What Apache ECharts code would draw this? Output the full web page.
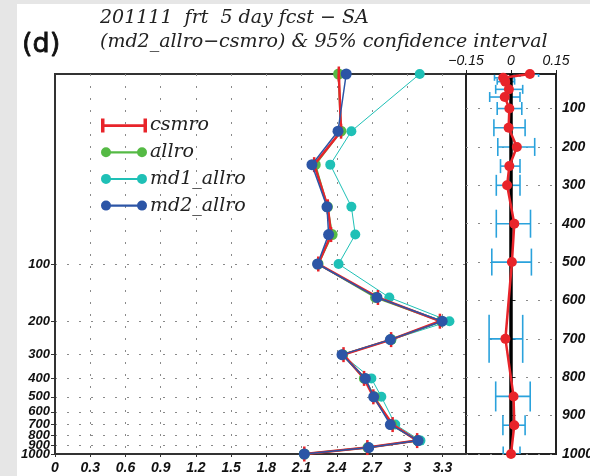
<!DOCTYPE html>
<html>
<head>
<meta charset="utf-8">
<script src="https://cdn.jsdelivr.net/npm/echarts@6/dist/echarts.min.js"></script>
<style>
  html, body { margin: 0; padding: 0; background: #e6e6e6; }
  #chart { width: 590px; height: 476px; }
</style>
</head>
<body>
<div id="chart"></div>
<script>
// Pressure levels (hPa) of the profile
const levels = [10, 20, 30, 50, 70, 100, 150, 200, 250, 300, 400, 500, 700, 850, 925, 1000];

// Profile values for each experiment
const csmro    = [2.417, 2.436, 2.207, 2.323, 2.351, 2.242, 2.750, 3.278, 2.862, 2.457, 2.632, 2.711, 2.875, 3.084, 2.660, 2.123];
const allro    = [2.415, 2.435, 2.216, 2.320, 2.360, 2.240, 2.730, 3.290, 2.860, 2.450, 2.635, 2.720, 2.865, 3.090, 2.665, 2.123];
const md1Allro = [3.106, 2.524, 2.344, 2.524, 2.557, 2.415, 2.847, 3.359, 2.865, 2.445, 2.694, 2.779, 2.898, 3.112, 2.675, 2.125];
const md2Allro = [2.480, 2.410, 2.188, 2.316, 2.330, 2.236, 2.742, 3.297, 2.856, 2.444, 2.643, 2.714, 2.856, 3.092, 2.671, 2.123];

// Difference md2_allro - csmro and its 95% confidence interval
const diff    = [0.063, -0.026, -0.019, -0.007, -0.021, -0.0055, -0.008, 0.0195, -0.0055, -0.013, 0.011, 0.003, -0.0186, 0.0085, 0.011, 0.0];
const ciLower = [0.030, -0.055, -0.046, -0.051, -0.071, -0.046, -0.057, -0.044, -0.035, -0.049, -0.049, -0.064, -0.073, -0.051, -0.027, -0.026];
const ciUpper = [0.092,  0.011,  0.012,  0.039,  0.030,  0.036,  0.047,  0.079,  0.030,  0.030,  0.065,  0.068,  0.039,  0.064,  0.047,  0.030];

// Tick labels (the left log axis labels are split over two axes so the
// tightly packed labels near the surface are all kept)
const leftXTicks = [0, 0.3, 0.6, 0.9, 1.2, 1.5, 1.8, 2.1, 2.4, 2.7, 3, 3.3];
const pressureTicks = [100, 200, 300, 400, 500, 600, 700, 800, 900, 1000];
const pressureLabelsA = [100, 200, 300, 400, 500, 600, 700, 900];
const pressureLabelsB = [800, 1000];

// Cap heights (px) for the confidence-interval whiskers
const capPx = [6, 6, 6, 9, 10, 13, 17, 18, 14, 21, 28, 27, 48, 30, 20, 15];

const tickFont = {
  fontFamily: '"Liberation Sans Narrow", "Liberation Sans", sans-serif',
  fontStyle: 'italic', fontWeight: 'bold', fontSize: 14, color: '#111'
};
const gridDash = { color: '#8a8a8a', width: 1, type: [2, 10] };

const pairs = arr => arr.map((v, i) => [v, levels[i]]);

const circleIcon = 'path://M0,7 A5,5 0 1,1 10,7 A5,5 0 1,1 0,7 Z M36,7 A5,5 0 1,1 46,7 A5,5 0 1,1 36,7 Z M4,6 L42,6 L42,8.2 L4,8.2 Z';
const barIcon = 'path://M0,0 L3.5,0 L3.5,14 L0,14 Z M42.5,0 L46,0 L46,14 L42.5,14 Z M0,5.7 L46,5.7 L46,8.5 L0,8.5 Z';

const leftLogAxis = {
  gridIndex: 0, type: 'log', logBase: 10, min: 10, max: 1000, inverse: true, position: 'left',
  minorTick: { show: false }
};
const leftLabel = vals => ({
  ...tickFont, fontSize: 13, margin: 5, customValues: vals,
  showMinLabel: true, showMaxLabel: true, hideOverlap: false,
  formatter: v => String(Math.round(v))
});

const chart = echarts.init(document.getElementById('chart'), null, { renderer: 'canvas' });

chart.setOption({
  backgroundColor: '#e6e6e6',
  animation: false,
  graphic: [
    { type: 'rect', z: -100, shape: { x: 17, y: 4, width: 573, height: 472 }, style: { fill: '#ffffff' } },
    { type: 'text', x: 22, y: 45, style: { text: '(d)', font: '27px "DejaVu Sans", sans-serif', fill: '#111', textVerticalAlign: 'middle', stroke: '#111', lineWidth: 0.8 } },
    { type: 'text', x: 100, y: 18, style: { text: '201111  frt  5 day fcst \u2212 SA', font: 'italic 19px "DejaVu Serif", serif', fill: '#222', textVerticalAlign: 'middle' } },
    { type: 'text', x: 100, y: 42, style: { text: '(md2_allro\u2212csmro) & 95% confidence interval', font: 'italic 19px "DejaVu Serif", serif', fill: '#222', textVerticalAlign: 'middle' } }
  ],
  legend: {
    orient: 'vertical', left: 96, top: 111, itemWidth: 46, itemHeight: 14, itemGap: 7.7,
    textStyle: { fontFamily: '"DejaVu Serif", serif', fontStyle: 'italic', fontSize: 19, color: '#222', padding: [0, 0, 0, -2] },
    data: [
      { name: 'csmro', icon: barIcon },
      { name: 'allro', icon: circleIcon },
      { name: 'md1_allro', icon: circleIcon },
      { name: 'md2_allro', icon: circleIcon }
    ]
  },
  grid: [
    { left: 55, top: 74, width: 411, height: 380, show: true, borderColor: '#333', borderWidth: 2, backgroundColor: 'transparent', outerBoundsMode: 'none', containLabel: false },
    { left: 466, top: 74, width: 90, height: 380, show: true, borderColor: '#222', borderWidth: 2, backgroundColor: 'transparent', outerBoundsMode: 'none', containLabel: false }
  ],
  xAxis: [
    {
      gridIndex: 0, type: 'value', min: 0, max: 3.5, position: 'bottom',
      axisLine: { show: true, lineStyle: { color: '#333', width: 2 } },
      axisTick: { show: true, length: 3, customValues: leftXTicks, lineStyle: { color: '#333' } },
      axisLabel: { ...tickFont, margin: 7, customValues: leftXTicks, showMinLabel: true, formatter: v => String(+(+v).toFixed(1)) },
      splitLine: { show: true, lineStyle: gridDash }
    },
    {
      gridIndex: 1, type: 'value', min: -0.15, max: 0.15, interval: 0.15, position: 'top',
      axisLine: { show: true, lineStyle: { color: '#222', width: 2 } },
      axisTick: { show: true, length: 4, lineStyle: { color: '#222' } },
      axisLabel: { ...tickFont, fontWeight: 'normal', margin: 6, showMinLabel: true, showMaxLabel: true, formatter: v => String(+(+v).toFixed(2)).replace('-', '\u2212') },
      splitLine: { show: false }
    }
  ],
  yAxis: [
    {
      ...leftLogAxis,
      axisLine: { show: true, lineStyle: { color: '#333', width: 2 } },
      axisTick: { show: true, length: 4, customValues: pressureTicks, lineStyle: { color: '#333' } },
      axisLabel: leftLabel(pressureLabelsA),
      splitLine: { show: true, lineStyle: gridDash }
    },
    {
      gridIndex: 1, type: 'value', min: 10, max: 1000, inverse: true, position: 'right',
      axisLine: { show: true, lineStyle: { color: '#222', width: 2 } },
      axisTick: { show: true, length: 4, customValues: pressureTicks, lineStyle: { color: '#222' } },
      axisLabel: { ...tickFont, margin: 6, customValues: pressureTicks, showMaxLabel: true, formatter: v => String(Math.round(v)) },
      splitLine: { show: true, lineStyle: gridDash }
    },
    {
      ...leftLogAxis,
      axisLine: { show: false },
      axisTick: { show: false },
      axisLabel: leftLabel(pressureLabelsB),
      splitLine: { show: false }
    }
  ],
  series: [
    {
      name: 'md1_allro', type: 'line', xAxisIndex: 0, yAxisIndex: 0, z: 2,
      data: pairs(md1Allro), color: '#1fc0b6',
      lineStyle: { width: 1, color: '#1fc0b6' }, symbol: 'circle', symbolSize: 10,
      itemStyle: { color: '#1fc0b6' }
    },
    {
      name: 'allro', type: 'line', xAxisIndex: 0, yAxisIndex: 0, z: 3,
      data: pairs(allro), color: '#55ba45',
      lineStyle: { width: 2, color: '#55ba45' }, symbol: 'circle', symbolSize: 11,
      itemStyle: { color: '#55ba45' }
    },
    {
      name: 'csmro', type: 'line', xAxisIndex: 0, yAxisIndex: 0, z: 4,
      data: pairs(csmro), color: '#e8242a',
      lineStyle: { width: 2.5, color: '#e8242a' },
      symbol: 'path://M0,0 L2,0 L2,10 L0,10 Z', symbolSize: [2.5, 15],
      itemStyle: { color: '#e8242a' }
    },
    {
      name: 'md2_allro', type: 'line', xAxisIndex: 0, yAxisIndex: 0, z: 5,
      data: pairs(md2Allro), color: '#2c55a6',
      lineStyle: { width: 1.5, color: '#2c55a6' }, symbol: 'circle', symbolSize: 11,
      itemStyle: { color: '#2c55a6' }
    },
    {
      name: 'ci', type: 'custom', xAxisIndex: 1, yAxisIndex: 1, z: 2, clip: true,
      data: levels.map((p, i) => [p, ciLower[i], ciUpper[i]]),
      encode: { x: [1, 2], y: 0 },
      renderItem: (params, api) => {
        const p = api.value(0);
        const a = api.coord([api.value(1), p]);
        const b = api.coord([api.value(2), p]);
        const h = capPx[params.dataIndex] / 2;
        const st = { stroke: '#2aa2dc', lineWidth: 1.6 };
        return {
          type: 'group',
          children: [
            { type: 'line', shape: { x1: a[0], y1: a[1], x2: b[0], y2: b[1] }, style: st },
            { type: 'line', shape: { x1: a[0], y1: a[1] - h, x2: a[0], y2: a[1] + h }, style: st },
            { type: 'line', shape: { x1: b[0], y1: b[1] - h, x2: b[0], y2: b[1] + h }, style: st }
          ]
        };
      },
      markLine: {
        silent: true, symbol: 'none', label: { show: false },
        lineStyle: { color: '#000', width: 3.5, type: 'solid' },
        data: [{ xAxis: 0 }]
      }
    },
    {
      name: 'diff', type: 'line', xAxisIndex: 1, yAxisIndex: 1, z: 6,
      data: pairs(diff),
      lineStyle: { width: 2.5, color: '#e8242a' }, symbol: 'circle', symbolSize: 10,
      itemStyle: { color: '#e8242a' }
    }
  ]
});
</script>
</body>
</html>
